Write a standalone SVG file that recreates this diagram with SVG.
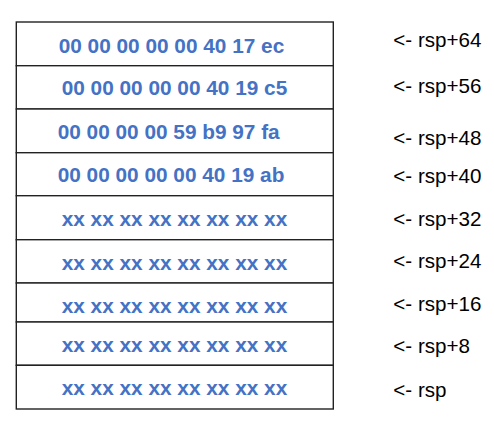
<svg xmlns="http://www.w3.org/2000/svg" width="494" height="427" viewBox="0 0 494 427">
<style>
.cell{fill:#ffffff;stroke:#222222;stroke-width:1.4}
.val{font-family:"Liberation Sans",Arial,sans-serif;font-weight:bold;font-size:20.8px;fill:#4472c4}
.lbl{font-family:"Liberation Sans",Arial,sans-serif;font-size:20.6px;fill:#000000}
</style>
<rect width="494" height="427" fill="#ffffff"/>
<g id="row-rsp64">
<rect class="cell" x="16.3" y="22" width="317" height="43.7"/>
<text class="val" x="58.7" y="52.5">00 00 00 00 00 40 17 ec</text>
<text class="lbl" x="393.3" y="47">&lt;- rsp+64</text>
</g>
<g id="row-rsp56">
<rect class="cell" x="16.3" y="65.7" width="317" height="43.3"/>
<text class="val" x="61.7" y="95.3">00 00 00 00 00 40 19 c5</text>
<text class="lbl" x="393.3" y="93">&lt;- rsp+56</text>
</g>
<g id="row-rsp48">
<rect class="cell" x="16.3" y="109" width="317" height="43.7"/>
<text class="val" x="57.7" y="139.3">00 00 00 00 59 b9 97 fa</text>
<text class="lbl" x="393.3" y="144.5">&lt;- rsp+48</text>
</g>
<g id="row-rsp40">
<rect class="cell" x="16.3" y="152.7" width="317" height="43"/>
<text class="val" x="57.7" y="182.3">00 00 00 00 00 40 19 ab</text>
<text class="lbl" x="393.3" y="182.5">&lt;- rsp+40</text>
</g>
<g id="row-rsp32">
<rect class="cell" x="16.3" y="195.7" width="317" height="44"/>
<text class="val" x="61.7" y="226.3">xx xx xx xx xx xx xx xx</text>
<text class="lbl" x="393.3" y="226">&lt;- rsp+32</text>
</g>
<g id="row-rsp24">
<rect class="cell" x="16.3" y="239.7" width="317" height="43.3"/>
<text class="val" x="61.7" y="270">xx xx xx xx xx xx xx xx</text>
<text class="lbl" x="393.3" y="268">&lt;- rsp+24</text>
</g>
<g id="row-rsp16">
<rect class="cell" x="16.3" y="283" width="317" height="39"/>
<text class="val" x="61.7" y="313.3">xx xx xx xx xx xx xx xx</text>
<text class="lbl" x="393.3" y="311">&lt;- rsp+16</text>
</g>
<g id="row-rsp8">
<rect class="cell" x="16.3" y="322" width="317" height="43.3"/>
<text class="val" x="61.7" y="351.7">xx xx xx xx xx xx xx xx</text>
<text class="lbl" x="393.3" y="352.5">&lt;- rsp+8</text>
</g>
<g id="row-rsp">
<rect class="cell" x="16.3" y="365.3" width="317" height="43.7"/>
<text class="val" x="61.7" y="395">xx xx xx xx xx xx xx xx</text>
<text class="lbl" x="393.3" y="396.5">&lt;- rsp</text>
</g>
<g id="connectors"></g>
</svg>
